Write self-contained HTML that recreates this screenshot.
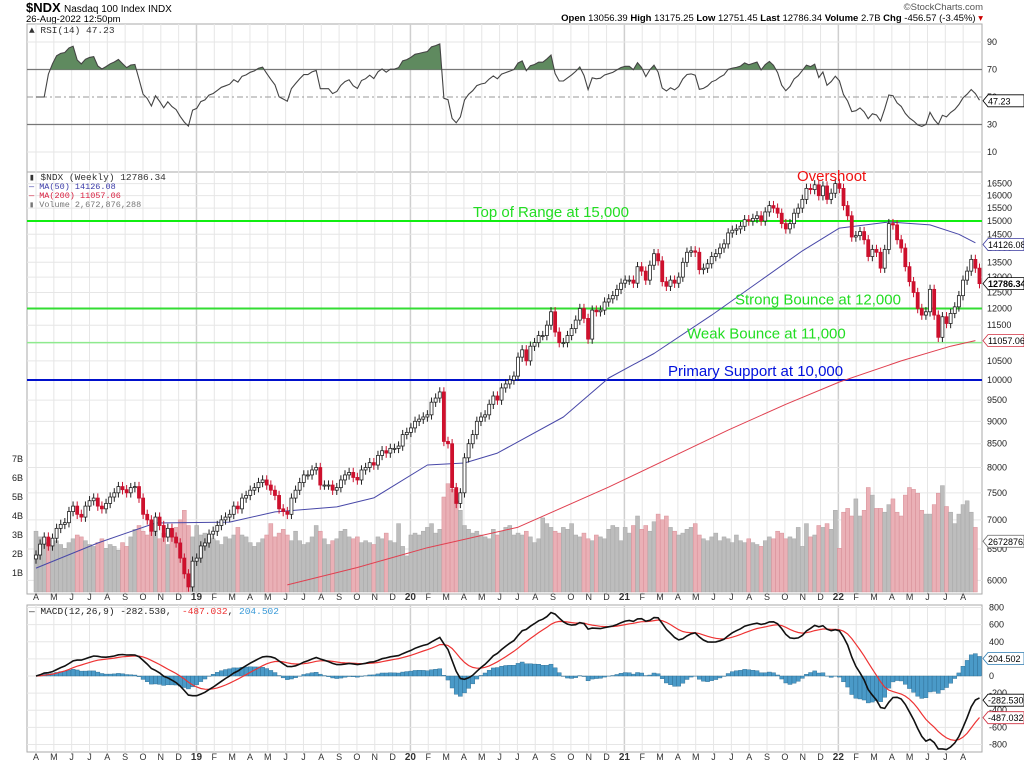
<!DOCTYPE html>
<html><head><meta charset="utf-8"><style>
html,body{margin:0;padding:0;background:#fff;}
svg{display:block;font-family:"Liberation Sans",sans-serif;}
.mono{font-family:"Liberation Mono","DejaVu Sans Mono",monospace;}
</style></head><body>
<svg id="c" width="1024" height="766" viewBox="0 0 1024 766">
<g>
<text x="26" y="12" font-size="13" font-weight="bold">$NDX</text>
<text x="64" y="12" font-size="10">Nasdaq 100 Index INDX</text>
<text x="26" y="22" font-size="9.5">26-Aug-2022 12:50pm</text>
<text x="983" y="10" font-size="9.5" text-anchor="end" fill="#555">©StockCharts.com</text>
<text x="983" y="21" font-size="9.5" text-anchor="end"><tspan font-weight="bold">Open</tspan> 13056.39 <tspan font-weight="bold">High</tspan> 13175.25 <tspan font-weight="bold">Low</tspan> 12751.45 <tspan font-weight="bold">Last</tspan> 12786.34 <tspan font-weight="bold">Volume</tspan> 2.7B <tspan font-weight="bold">Chg</tspan> -456.57 (-3.45%) <tspan fill="#c00">▾</tspan></text>
</g>
<g id="grid"></g>
<g id="marks"></g>
<g id="labels"></g>
</svg>
<script>
const closes=[6400,6580,6700,6550,6680,6850,6920,6950,7150,7250,7100,7050,7250,7350,7400,7250,7200,7300,7420,7500,7620,7560,7500,7600,7620,7400,7100,7000,6800,7050,6900,6700,6850,6700,6600,6350,6100,5900,6300,
6350,6550,6600,6750,6800,6900,7000,7050,7100,7250,7200,7400,7450,7550,7600,7700,7750,7650,7550,7450,7200,7150,7100,7400,7550,7700,7850,7850,7950,8000,7650,7650,7650,7550,7600,7750,7850,7900,7800,7750,7950,8000,8100,8050,8250,8350,8300,8400,8400,8450,8700,8750,
8850,9000,9050,9100,9150,9450,9550,9700,8550,8500,7600,7300,7500,8200,8500,8700,9000,9100,9150,9400,9600,9500,9800,9900,10000,10100,10600,10800,10500,10900,11000,11200,11200,11500,11900,11300,11000,11000,11200,11400,11650,12000,11700,11100,11950,11900,11950,12200,12300,12400,12600,12800,12900,
12900,12800,13350,13200,12900,13400,13800,13550,12850,12700,12900,12800,13000,13500,13850,13900,13850,13250,13300,13450,13700,13800,14000,14150,14550,14650,14700,14800,15050,15000,15100,15200,15000,15350,15600,15500,15300,14900,14700,14900,15300,15500,15850,16300,16250,16450,16000,16400,15850,16100,16500,16300,
15600,15200,14400,14450,14600,14300,13700,13950,13850,13300,13950,14900,14850,14300,14000,13350,12850,12500,12000,11800,11900,12600,11800,11150,11750,11550,11850,12050,12400,12900,13200,13600,13300,12786];
const volumes=[3.2,2.9,2.6,2.5,2.4,2.7,2.5,2.3,2.6,2.8,3.0,2.9,2.7,2.5,2.4,2.6,2.8,2.3,2.5,2.4,2.2,2.6,2.4,2.9,3.3,3.5,3.2,3.0,3.6,3.2,2.8,3.1,2.5,3.3,3.4,3.8,4.3,3.5,2.9,
3.5,3.0,3.1,2.9,2.8,2.7,2.5,2.9,2.8,3.0,3.4,3.0,2.9,2.6,2.4,2.6,2.8,3.0,3.6,2.9,3.1,3.3,3.0,2.7,3.2,2.7,2.5,2.6,2.9,3.5,3.2,2.8,2.5,2.7,2.8,3.2,3.3,2.9,2.8,2.9,2.6,2.7,2.6,2.5,2.9,2.8,3.1,2.7,2.6,3.6,2.4,1.9,
3.0,3.1,3.0,3.2,3.4,3.6,3.1,3.3,5.0,5.7,5.4,4.8,4.3,3.5,3.3,3.1,3.2,3.0,2.9,2.8,3.3,3.0,3.2,3.4,3.5,3.0,3.1,3.0,3.2,2.9,2.6,2.8,3.9,3.6,3.4,3.2,3.1,3.4,3.3,3.6,3.0,2.9,3.1,2.8,2.7,3.0,2.9,2.8,3.3,3.5,3.4,2.7,
3.4,3.1,3.5,4.0,3.3,3.5,3.2,3.7,4.1,3.8,4.0,3.4,3.2,3.0,3.1,3.3,3.4,3.6,3.0,2.8,2.7,2.9,3.1,2.7,2.9,2.8,2.6,3.0,2.7,2.6,2.8,2.6,2.5,2.4,2.7,2.9,2.8,3.2,3.1,2.8,2.9,2.8,3.4,2.4,3.6,2.9,3.0,3.5,3.4,3.6,3.3,4.3,
2.3,4.2,4.4,4.0,4.9,4.0,4.3,5.5,5.1,4.4,4.4,4.2,4.6,4.9,4.2,4.0,5.1,5.5,5.4,5.2,4.3,4.1,4.1,4.6,5.2,5.6,4.5,4.2,3.6,4.1,4.6,4.8,4.2,3.4];
const ma50Weeks=[0,15,29,47,58,73,82,95,104,112,128,139,150,164,176,186,195,207,217,224,228];
const ma50Values=[6190,6600,6944,6960,7144,7236,7404,8052,8093,8300,9100,10050,10700,11800,12900,13900,14730,14960,14850,14500,14190];
const ma200Weeks=[61,78,95,117,139,168,182,195,210,222,228];
const ma200Values=[5930,6200,6520,6870,7610,8800,9400,9950,10500,10900,11057];
const priceTicks=[6000,6500,7000,7500,8000,8500,9000,9500,10000,10500,11000,11500,12000,12500,13000,13500,14000,14500,15000,15500,16000,16500];
const rsiTicks=[10,30,50,70,90];
const macdTicks=[-800,-600,-400,-200,0,200,400,600,800];
const volTicks=[1,2,3,4,5,6,7];
const monthLabels=["A","M","J","J","A","S","O","N","D","19","F","M","A","M","J","J","A","S","O","N","D","20","F","M","A","M","J","J","A","S","O","N","D","21","F","M","A","M","J","J","A","S","O","N","D","22","F","M","A","M","J","J","A"];

const NS="http://www.w3.org/2000/svg";
const L=27,R=982;
const P={rt:24,rb:172,pt:172,pb:594,mt:605,mb:752};
const X=i=>36+i*4.12;
const yP=p=>380+903*Math.log10(10000/p);
const yR=v=>97-(v-50)*1.375;
const yM=v=>676-v*0.0856;
const yV=v=>592-v*19;
const mX=m=>36+m*17.83;
function el(t,a,parent){const e=document.createElementNS(NS,t);for(const k in a)e.setAttribute(k,a[k]);(parent||document.getElementById('marks')).appendChild(e);return e;}
const grid=document.getElementById('grid'),marks=document.getElementById('marks'),labels=document.getElementById('labels');

[[P.rt,P.rb,'rsi-panel'],[P.pt,P.pb,'price-panel'],[P.mt,P.mb,'macd-panel']].forEach(p=>{
 const r=el('rect',{x:L,y:p[0],width:R-L,height:p[1]-p[0],fill:'#fff',stroke:'#aaa','stroke-width':1},grid);
 
 
});
monthLabels.forEach((m,i)=>{
 const x=mX(i);const yr=/\d/.test(m);
 [[P.rt,P.rb],[P.pt,P.pb],[P.mt,P.mb]].forEach(p=>{
  const g=el('line',{x1:x,x2:x,y1:p[0],y2:p[1],stroke:yr?'#cfcfcf':'#e6e6e6','stroke-width':yr?1.5:1},grid);
  
  
 });
 [600,760].forEach(y=>{
  const t=el('text',{x:x,y:y,'font-size':yr?10:9,'font-weight':yr?'bold':'normal','text-anchor':'middle',fill:'#333'},labels);
  t.textContent=m;
  
  
 });
});
priceTicks.forEach(p=>{
 const y=yP(p);
 const g=el('line',{x1:L,x2:R,y1:y,y2:y,stroke:'#e6e6e6'},grid);
 
 
 const t=el('text',{x:987,y:y+3,'font-size':9,fill:'#222'},labels);
 t.textContent=p;
 
 
});
rsiTicks.forEach(v=>{
 const y=yR(v);
 const g=el('line',{x1:L,x2:R,y1:y,y2:y,stroke:(v==30||v==70)?'#777':(v==50?'#999':'#e6e6e6'),'stroke-width':(v==30||v==70)?1.3:1,'stroke-dasharray':v==50?'6 3 2 3':'none'},grid);
 
 
 const t=el('text',{x:987,y:y+3,'font-size':9,fill:'#222'},labels);
 t.textContent=v;
 
 
});
macdTicks.forEach(v=>{
 const y=yM(v);
 const g=el('line',{x1:L,x2:R,y1:y,y2:y,stroke:'#e6e6e6'},grid);
 
 
 const t=el('text',{x:989,y:y+3,'font-size':9,fill:'#222'},labels);
 t.textContent=v;
 
 
});
volTicks.forEach(v=>{
 const t=el('text',{x:12,y:yV(v)+3,'font-size':9,fill:'#222'},labels);
 t.textContent=v+'B';
 
 
});

closes.forEach((c,i)=>{
 const o=i?closes[i-1]:c;
 const b=el('rect',{x:X(i)-2,y:yV(volumes[i]),width:4,height:yV(0)-yV(volumes[i]),fill:c>=o?'#bdbdbd':'#eab0b6',stroke:c>=o?'#a8a8a8':'#d89098','stroke-width':0.5});
 
 
});
[[15000,'#11ee11',2,'top-of-range-line'],[12000,'#33dd33',2,'strong-bounce-line'],[11000,'#8eea8e',1.5,'weak-bounce-line'],[10000,'#0010cc',2,'primary-support-line']].forEach(l=>{
 const g=el('line',{x1:L,x2:R,y1:yP(l[0]),y2:yP(l[0]),stroke:l[1],'stroke-width':l[2]});
 
 
});
function line(ws,vs,col,name){
 const d=ws.map((w,i)=>(i?'L':'M')+X(w).toFixed(1)+','+yP(vs[i]).toFixed(1)).join('');
 const p=el('path',{d:d,fill:'none',stroke:col,'stroke-width':1,'stroke-linejoin':'round'});
 
 
}
line(ma50Weeks,ma50Values,'#4848a8','ma50-line');
line(ma200Weeks,ma200Values,'#e04050','ma200-line');
closes.forEach((c,i)=>{
 const o=i?closes[i-1]:c*0.99;
 const hi=Math.max(o,c)*1.012,lo=Math.min(o,c)*0.988;
 const up=c>=o,x=X(i);
 const w=el('line',{x1:x,x2:x,y1:yP(hi),y2:yP(lo),stroke:up?'#222':'#c8102e','stroke-width':1});
 
 
 const top=yP(Math.max(o,c)),bot=yP(Math.min(o,c));
 const b=el('rect',{x:x-1.5,y:top,width:3,height:Math.max(1,bot-top),fill:up?'#fff':'#d0102c',stroke:up?'#222':'#c8102e','stroke-width':0.8});
 
 
});
[['Top of Range at 15,000',473,yP(15000)-4,'#22dd22','label-top-of-range'],['Strong Bounce at 12,000',735,yP(12000)-4,'#22dd22','label-strong-bounce'],['Weak Bounce at 11,000',687,yP(11000)-4,'#22dd22','label-weak-bounce'],['Primary Support at 10,000',668,yP(10000)-4,'#0010dd','label-primary-support'],['Overshoot',797,181,'#ee1111','label-overshoot']].forEach(a=>{
 const t=el('text',{x:a[1],y:a[2],'font-size':15,fill:a[3]},labels);
 t.textContent=a[0];
 
 
});
const rsi=[];{let ag=0,al=0;for(let i=1;i<closes.length;i++){const d=closes[i]-closes[i-1];const g=Math.max(d,0),l=Math.max(-d,0);if(i<=14){ag=(ag*(i-1)+g)/i;al=(al*(i-1)+l)/i;}else{ag=(ag*13+g)/14;al=(al*13+l)/14;}rsi[i]=100-100/(1+ag/(al||ag||1));}rsi[0]=rsi[1];}
{
 const d=rsi.map((v,i)=>(i?'L':'M')+X(i).toFixed(1)+','+yR(v).toFixed(1)).join('');
 const cp=el('clipPath',{id:'ob'},marks);
 el('rect',{x:L,y:P.rt,width:R-L,height:yR(70)-P.rt},cp);
 const f=el('path',{d:d+'L'+X(rsi.length-1)+','+yR(70)+'L'+X(0)+','+yR(70)+'Z',fill:'#5f8a5f','clip-path':'url(#ob)'});
 
 
 const p=el('path',{d:d,fill:'none',stroke:'#444','stroke-width':1.1});
 
 
}
function ema(a,n){const k=2/(n+1);const o=[a[0]];for(let i=1;i<a.length;i++)o[i]=a[i]*k+o[i-1]*(1-k);return o;}
const e12=ema(closes,12),e26=ema(closes,26);const macd=closes.map((c,i)=>e12[i]-e26[i]);const sig=ema(macd,9);
macd.forEach((m,i)=>{const h=m-sig[i];const y0=yM(0),y1=yM(h);
 const b=el('rect',{x:X(i)-2.06,y:Math.min(y0,y1),width:4.12,height:Math.abs(y1-y0),fill:'#4a9ac8',stroke:'#2a6a90','stroke-width':0.4});
 
 
});
[[sig,'#ee3333','macd-signal-line',1.2],[macd,'#111','macd-line',1.6]].forEach(s=>{
 const p=el('path',{d:s[0].map((v,i)=>(i?'L':'M')+X(i).toFixed(1)+','+yM(v).toFixed(1)).join(''),fill:'none',stroke:s[1],'stroke-width':s[3]});
 
 
});
[[yR(47.23),'47.23','#000','rsi-value-tag'],[yP(14126),'14126.08','#3a3aa0','ma50-value-tag'],[yP(12786),'12786.34','#000','last-price-tag'],[yP(11057),'11057.06','#d03040','ma200-value-tag'],[yV(2.67),'26728762','#666','volume-value-tag'],[yM(204.5),'204.502','#2a7ab0','macd-hist-tag'],[yM(-282.5),'-282.530','#000','macd-value-tag'],[yM(-487),'-487.032','#d03040','macd-signal-tag']].forEach(t=>{
 const r=el('path',{d:`M983,${t[0]}l5,-6h36v12h-36z`,fill:'#fff',stroke:t[2],'stroke-width':0.8},labels);
 
 
 const tx=el('text',{x:988,y:t[0]+3.5,'font-size':9,fill:'#000','font-weight':t[3]=='last-price-tag'?'bold':'normal'},labels);
 tx.textContent=t[1];
 
 
});
[[29,33,'▲ RSI(14) 47.23','#333','rsi-legend',9.5],[29,180,'▮ $NDX (Weekly) 12786.34','#333','price-legend',9.5],[29,189,'— MA(50) 14126.08','#3a3aa8','ma50-legend',8.5],[29,198,'— MA(200) 11057.06','#d82040','ma200-legend',8.5],[29,207,'▮ Volume 2,672,876,288','#777','volume-legend',8.5],[29,614,'— MACD(12,26,9) -282.530, ','#222','macd-legend',9.5]].forEach(g=>{
 const t=el('text',{x:g[0],y:g[1],'font-size':g[5],fill:g[3],class:'mono'},labels);
 t.textContent=g[2];
 
 
});
{const t=el('text',{x:182,y:614,'font-size':9.5,class:'mono',fill:'#ee3333'},labels);t.innerHTML='-487.032<tspan fill="#222">, </tspan><tspan fill="#3a9ad8">204.502</tspan>';

}
</script>
</body></html>
